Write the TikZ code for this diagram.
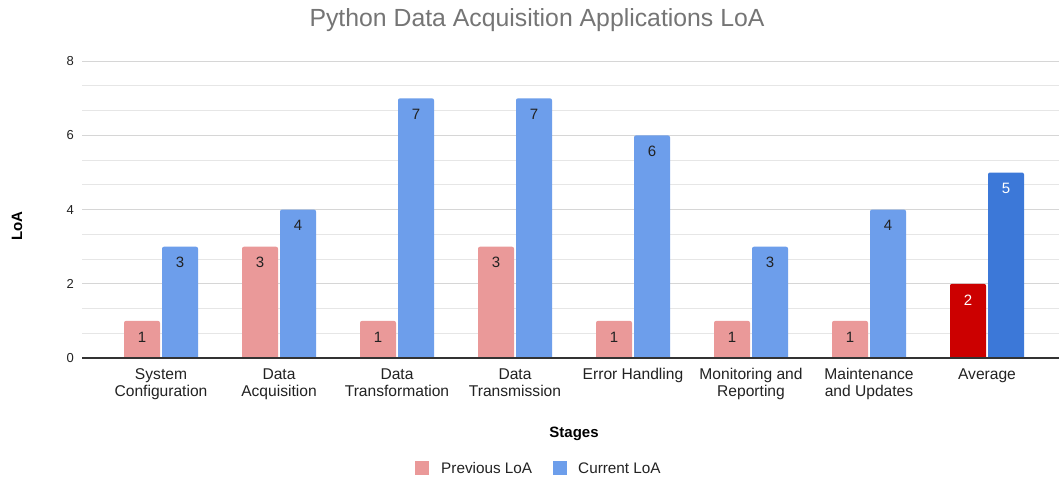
\documentclass[tikz,border=0pt]{standalone}
\usepackage{fontspec}
\setmainfont{Liberation Sans}
\definecolor{prevc}{HTML}{EA9999}
\definecolor{curc}{HTML}{6D9EEB}
\definecolor{avgprev}{HTML}{CC0000}
\definecolor{avgcur}{HTML}{3C78D8}
\definecolor{gridmajor}{HTML}{D6D6D6}
\definecolor{gridminor}{HTML}{E6E6E6}
\definecolor{txt}{HTML}{222222}
\definecolor{titlec}{HTML}{757575}
\tikzset{
  ticklbl/.style={anchor=east, text=txt, font=\fontsize{13}{15}\selectfont, inner sep=0pt},
  catlbl/.style={text=txt, font=\fontsize{15.6}{17}\selectfont, inner sep=0pt},
  vallbl/.style={font=\fontsize{15}{17}\selectfont, inner sep=0pt},
  axtitle/.style={text=black, font=\bfseries\fontsize{15}{17}\selectfont, inner sep=0pt},
  legtext/.style={anchor=west, text=txt, font=\fontsize{15.3}{17}\selectfont, inner sep=0pt},
}
\begin{document}
\begin{tikzpicture}[x=1pt,y=-1pt]
\useasboundingbox[fill=white] (0,0) rectangle (1059,479);

% title
\node[text=titlec, font=\fontsize{24.8}{28}\selectfont, inner sep=0pt] (title) at (537,20) {Python Data Acquisition Applications LoA};

% grid: light lines every 2/3, major every 2
\foreach \k in {1,...,12}{
  \pgfmathsetmacro\yy{358-24.7333*\k}
  \pgfmathtruncatemacro\m{mod(\k,3)}
  \ifnum\m=0
    \draw[gridmajor, line width=1pt] (82,\yy) -- (1059,\yy);
  \else
    \draw[gridminor, line width=1pt] (82,\yy) -- (1059,\yy);
  \fi
}
% tick labels
\foreach \v in {0,2,4,6,8}{
  \node[ticklbl] (tick\v) at (74,{358-37.1*\v}) {\v};
}

% bars
\begin{scope}
\clip (0,0) rectangle (1059,358);
\foreach \i/\p/\c in {0/1/3,1/3/4,2/1/7,3/3/7,4/1/6,5/1/3,6/1/4}{
  \pgfmathsetmacro\cx{161+118*\i}
  \fill[prevc, rounded corners=2pt] ({\cx-37},{358-37.1*\p}) rectangle ({\cx-1},364);
  \fill[curc, rounded corners=2pt] ({\cx+1},{358-37.1*\c}) rectangle ({\cx+37},364);
}
\fill[avgprev, rounded corners=2pt] (950,{358-37.1*2}) rectangle (986,364);
\fill[avgcur, rounded corners=2pt] (988,{358-37.1*5}) rectangle (1024,364);
\end{scope}

% value labels
\foreach \i/\p/\c in {0/1/3,1/3/4,2/1/7,3/3/7,4/1/6,5/1/3,6/1/4}{
  \pgfmathsetmacro\cx{161+118*\i}
  \node[vallbl, text=txt] (vp\i) at ({\cx-19},{358-37.1*\p+16}) {\p};
  \node[vallbl, text=txt] (vc\i) at ({\cx+19},{358-37.1*\c+16}) {\c};
}
\node[vallbl, text=white] (vp7) at (968,{358-37.1*2+16}) {2};
\node[vallbl, text=white] (vc7) at (1006,{358-37.1*5+16}) {5};

% baseline axis
\draw[black!80, line width=1.3pt] (82,358) -- (1059,358);

% category labels
\foreach \i/\la/\lb in {0/System/Configuration,1/Data/Acquisition,2/Data/Transformation,3/Data/Transmission,4/Error Handling/,5/Monitoring and/Reporting,6/Maintenance/and Updates,7/Average/}{
  \pgfmathsetmacro\cx{161+118*\i}
  \node[catlbl] (cata\i) at (\cx,376) {\strut\la};
  \node[catlbl] (catb\i) at (\cx,393) {\strut\lb};
}

% axis titles
\node[axtitle, rotate=90] (ytitle) at (17,226) {LoA};
\node[axtitle] (xtitle) at (574,434) {Stages};

% legend
\fill[prevc] (415,461) rectangle (429,475);
\node[legtext] (legprev) at (441,468) {Previous LoA};
\fill[curc] (553,461) rectangle (567,475);
\node[legtext] (legcur) at (578,468) {Current LoA};
\end{tikzpicture}
\end{document}
